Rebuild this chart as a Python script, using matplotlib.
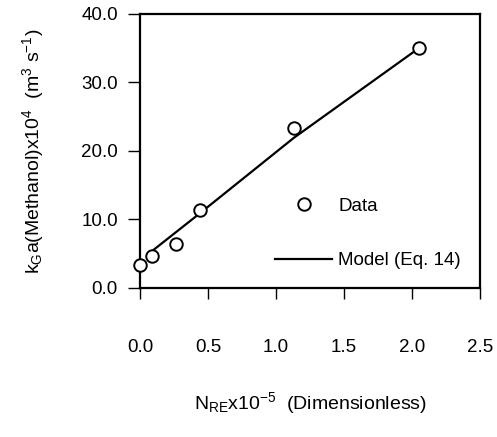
import numpy as np
import matplotlib
matplotlib.use('Agg')
import matplotlib.pyplot as plt
from matplotlib.ticker import FormatStrFormatter

plt.rcParams['font.family'] = ['Liberation Sans', 'DejaVu Sans']
plt.rcParams['mathtext.fontset'] = 'custom'
plt.rcParams['mathtext.rm'] = 'Liberation Sans'
plt.rcParams['mathtext.it'] = 'Liberation Sans'

# measured data
n_re = [0.0, 0.086, 0.265, 0.44, 1.13, 2.05]
kga = [3.4, 4.7, 6.4, 11.4, 23.3, 35.0]

# model curve (Eq. 14)
model_x = [0.07, 0.44, 1.13, 2.05]
model_y = [5.1, 10.9, 21.9, 35.0]

xticks = [0.0, 0.5, 1.0, 1.5, 2.0, 2.5]
yticks = [0.0, 10.0, 20.0, 30.0, 40.0]

fig = plt.figure(figsize=(4.97, 4.37), dpi=100)
ax = fig.add_axes([0.2817, 0.341, 0.684, 0.627])

ax.plot(model_x, model_y, color='black', lw=1.6, label='Model (Eq. 14)', zorder=2)
ax.plot(n_re, kga, 'o', mfc='white', mec='black', mew=1.4, ms=9,
        label='Data', zorder=3, clip_on=False)

ax.set_xlim(0, 2.5)
ax.set_ylim(0, 40)
ax.set_xticks(xticks)
ax.set_yticks(yticks)
ax.xaxis.set_major_formatter(FormatStrFormatter('%.1f'))
ax.yaxis.set_major_formatter(FormatStrFormatter('%.1f'))
ax.tick_params(axis='x', direction='out', length=8, width=1, pad=29, labelsize=13.5)
ax.tick_params(axis='y', direction='out', length=9, width=1, pad=7, labelsize=13.5)
for s in ax.spines.values():
    s.set_linewidth(1.6)

ax.set_xlabel(r'N$_{\mathregular{RE}}$x10$^{\mathregular{-5}}$  (Dimensionless)',
              fontsize=14, labelpad=24)
ax.set_ylabel(r'k$_{\mathregular{G}}$a(Methanol)x10$^{\mathregular{4}}$  (m$^{\mathregular{3}}$ s$^{\mathregular{-1}}$)',
              fontsize=14, labelpad=25)

handles, labels = ax.get_legend_handles_labels()
ax.legend(handles[::-1], labels[::-1], loc='upper left', bbox_to_anchor=(0.397, 0.330),
          frameon=False, borderpad=0, borderaxespad=0, handlelength=3.05,
          handletextpad=0.32, labelspacing=1.99, fontsize=13.5, numpoints=1)

fig.savefig('out.png', dpi=100)
